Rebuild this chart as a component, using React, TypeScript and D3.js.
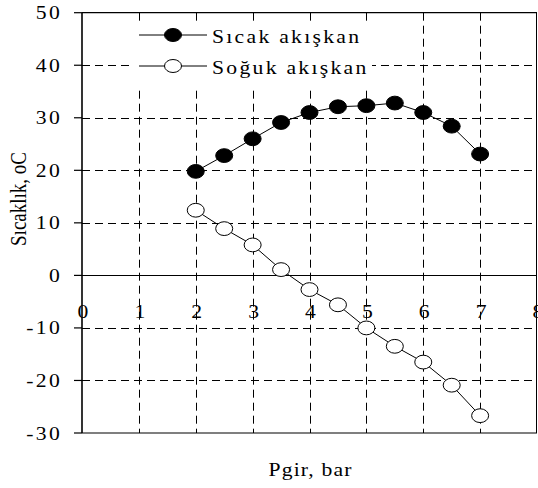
import React from "react";
import * as d3 from "d3";

const pressures = [2, 2.5, 3, 3.5, 4, 4.5, 5, 5.5, 6, 6.5, 7];
const hotTemps = [19.8, 22.8, 26.0, 29.1, 31.0, 32.1, 32.3, 32.8, 31.0, 28.4, 23.1];
const coldTemps = [12.4, 8.9, 5.8, 1.1, -2.7, -5.6, -10.0, -13.5, -16.5, -20.9, -26.7];
const xTicks = [0, 1, 2, 3, 4, 5, 6, 7, 8];
const yTicks = [50, 40, 30, 20, 10, 0, -10, -20, -30];
const seriesNames = ["Sıcak akışkan", "Soğuk akışkan"];
const xTitle = "Pgir, bar";
const yTitle = "Sıcaklık, oC";

const W = 538;
const H = 488;
const FONT = "'Liberation Serif', 'Times New Roman', serif";
const SX = 1.14;
const LS = 2;

export default function App() {
  const x = d3.scaleLinear().domain([0, 8]).range([82, 537]);
  const y = d3.scaleLinear().domain([-30, 50]).range([433, 12.7]);
  const line = d3
    .line<[number, number]>()
    .x((d) => x(d[0]))
    .y((d) => y(d[1]));
  const hot: [number, number][] = pressures.map((p, i) => [p, hotTemps[i]]);
  const cold: [number, number][] = pressures.map((p, i) => [p, coldTemps[i]]);
  const [x0, x1] = x.range();
  const [yb, yt] = y.range();
  const dash = "8,5";
  const rx = 8.5;
  const ry = 6.9;

  return (
    <svg
      width={W}
      height={H}
      style={{ position: "absolute", left: 0, top: 0, background: "#fff" }}
      fontFamily={FONT}
    >
      <rect x={0} y={0} width={W} height={H} fill="#fff" />
      {xTicks
        .filter((t) => t > 0 && t < 8)
        .map((t) => (
          <line
            key={"vx" + t}
            x1={Math.round(x(t)) + 0.5}
            x2={Math.round(x(t)) + 0.5}
            y1={yt}
            y2={yb}
            stroke="#000"
            strokeWidth={1}
            strokeDasharray={dash}
          />
        ))}
      {yTicks
        .filter((t) => t !== 0 && t !== 50 && t !== -30)
        .map((t) => (
          <line
            key={"hy" + t}
            x1={x0}
            x2={x1}
            y1={Math.round(y(t)) + 0.5}
            y2={Math.round(y(t)) + 0.5}
            stroke="#000"
            strokeWidth={1}
            strokeDasharray={dash}
          />
        ))}
      <line x1={x0} x2={x1} y1={Math.round(y(0)) + 0.5} y2={Math.round(y(0)) + 0.5} stroke="#000" strokeWidth={1} />
      <line x1={x0} x2={x1} y1={yt} y2={yt} stroke="#000" strokeWidth={1.2} />
      <line x1={x0} x2={x1} y1={yb} y2={yb} stroke="#000" strokeWidth={1.2} />
      <line x1={x1 - 0.5} x2={x1 - 0.5} y1={yt} y2={yb} stroke="#000" strokeWidth={1} />
      <line x1={x0} x2={x0} y1={yt} y2={yb} stroke="#000" strokeWidth={1.6} />
      {yTicks.map((t) => (
        <line key={"yt" + t} x1={x0 - 8} x2={x0} y1={y(t)} y2={y(t)} stroke="#000" strokeWidth={1.2} />
      ))}
      {yTicks.map((t) => (
        <text
          key={"yl" + t}
          transform={`translate(62,${y(t) + 6.5}) scale(${SX},1)`}
          textAnchor="end"
          fontSize={19}
          letterSpacing={LS}
          fill="#000"
        >
          {t}
        </text>
      ))}
      {xTicks.map((t) => (
        <text
          key={"xl" + t}
          transform={`translate(${x(t) + 1},318) scale(${SX},1)`}
          textAnchor="middle"
          fontSize={19}
          fill="#000"
        >
          {t}
        </text>
      ))}
      <rect x={131} y={21} width={241} height={67} fill="#fff" />
      <path d={line(hot) || ""} fill="none" stroke="#000" strokeWidth={1} />
      <path d={line(cold) || ""} fill="none" stroke="#000" strokeWidth={1} />
      {hot.map((d, i) => (
        <ellipse key={"h" + i} cx={x(d[0])} cy={y(d[1])} rx={rx} ry={ry} fill="#000" stroke="#000" strokeWidth={1} />
      ))}
      {cold.map((d, i) => (
        <ellipse key={"c" + i} cx={x(d[0])} cy={y(d[1])} rx={rx} ry={ry} fill="#fff" stroke="#000" strokeWidth={1} />
      ))}
      {seriesNames.map((name, i) => {
        const ly = 35 + i * 31;
        return (
          <g key={"lg" + i}>
            <line x1={139} x2={207} y1={ly} y2={ly} stroke="#000" strokeWidth={1} />
            <ellipse cx={173} cy={ly} rx={8.5} ry={6.5} fill={i === 0 ? "#000" : "#fff"} stroke="#000" strokeWidth={1} />
            <text transform={`translate(212,${ly + 8}) scale(${SX},1)`} fontSize={19} letterSpacing={LS} fill="#000">
              {name}
            </text>
          </g>
        );
      })}
      <text
        transform={`translate(${(x0 + x1) / 2 + 1},476) scale(${SX},1)`}
        textAnchor="middle"
        fontSize={19}
        letterSpacing={1}
        fill="#000"
      >
        {xTitle}
      </text>
      <text transform={`translate(26,199) scale(1.2,1) rotate(-90)`} textAnchor="middle" fontSize={19} fill="#000">
        {yTitle}
      </text>
    </svg>
  );
}
